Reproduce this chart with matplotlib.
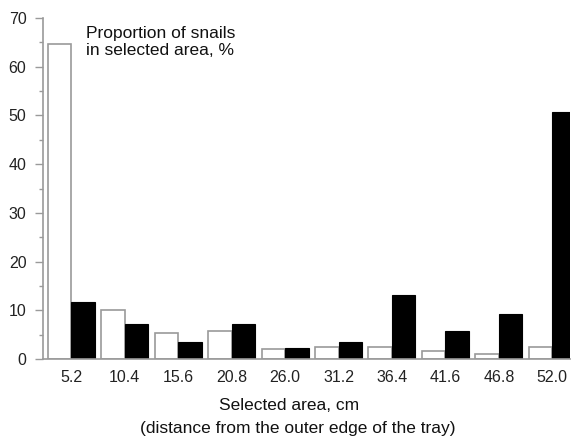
import numpy as np
import matplotlib.pyplot as plt

plt.rcParams['font.family'] = ['Liberation Sans', 'DejaVu Sans']

areas = ['5.2', '10.4', '15.6', '20.8', '26.0', '31.2', '36.4', '41.6', '46.8', '52.0']
white_vals = [64.6, 10.1, 5.4, 5.8, 2.1, 2.5, 2.5, 1.7, 1.1, 2.5]
black_vals = [11.8, 7.2, 3.5, 7.2, 2.2, 3.5, 13.2, 5.7, 9.3, 50.7]

grey = '#9a9a9a'
fig = plt.figure(figsize=(5.75, 4.41), dpi=100)
ax = fig.add_axes([0.075, 0.186, 0.917, 0.773])

x = np.arange(len(areas))
w = 0.44
ax.bar(x - w / 2, white_vals, w, color='white', edgecolor=grey, linewidth=1.2)
ax.bar(x + w / 2, black_vals, w, color='black', edgecolor='black', linewidth=0.8)

ax.set_xlim(-0.53, 9.34)
ax.set_ylim(0, 70)
ax.set_yticks(np.arange(0, 71, 10))
ax.set_yticks(np.arange(5, 70, 10), minor=True)
ax.set_xticks(x)
ax.set_xticklabels(areas, fontsize=11.5)
ax.tick_params(axis='y', colors=grey, labelcolor='#222222', labelsize=11.5,
               length=6, width=1, pad=6)
ax.tick_params(axis='y', which='minor', colors=grey, length=3, width=1)
ax.tick_params(axis='x', length=0, pad=8, labelcolor='#222222')

for side in ['top', 'right']:
    ax.spines[side].set_visible(False)
for side in ['left', 'bottom']:
    ax.spines[side].set_color(grey)
    ax.spines[side].set_linewidth(1.2)

# axis title, two lines placed separately
fig.text(289 / 575, 1 - 406 / 441, 'Selected area, cm', fontsize=12.5,
         ha='center', va='center', color='#111111')
fig.text(298 / 575, 1 - 429 / 441, '(distance from the outer edge of the tray)',
         fontsize=12.5, ha='center', va='center', color='#111111')

ax.text(0.082, 0.978, 'Proportion of snails\nin selected area, %',
        transform=ax.transAxes, fontsize=12.5, va='top', ha='left',
        color='#111111', linespacing=1.2)

fig.savefig('out.png', dpi=100)
